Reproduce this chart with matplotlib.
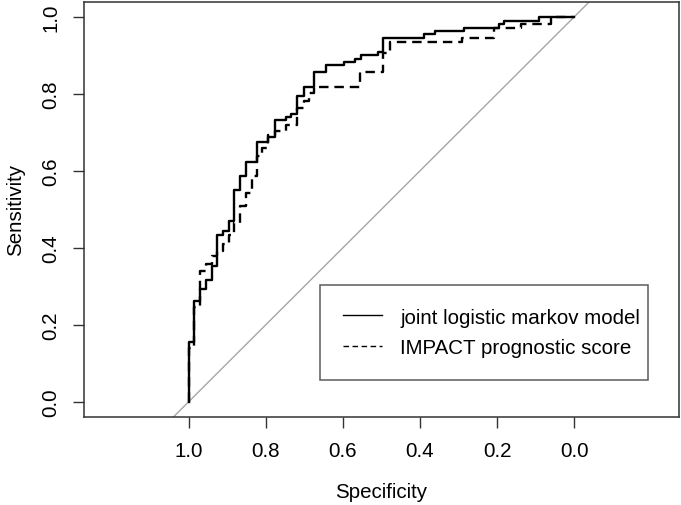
import matplotlib
matplotlib.use("Agg")
import matplotlib.pyplot as plt

plt.rcParams["font.family"] = ["Liberation Sans", "DejaVu Sans"]

# ROC step points (specificity, sensitivity)
spec_joint = [1.0, 0.986, 0.970, 0.956, 0.941, 0.926, 0.911, 0.896, 0.883, 0.866,
              0.851, 0.823, 0.795, 0.777, 0.747, 0.734, 0.718, 0.702, 0.674, 0.643,
              0.598, 0.568, 0.553, 0.510, 0.495, 0.391, 0.361, 0.285, 0.196, 0.181,
              0.091, 0.0]
sens_joint = [0.0, 0.156, 0.262, 0.293, 0.316, 0.353, 0.433, 0.444, 0.470, 0.550,
              0.586, 0.623, 0.675, 0.688, 0.731, 0.740, 0.748, 0.794, 0.819, 0.856,
              0.874, 0.883, 0.891, 0.900, 0.909, 0.945, 0.955, 0.964, 0.972, 0.982,
              0.990, 1.0]

spec_impact = [1.0, 0.986, 0.970, 0.956, 0.941, 0.926, 0.911, 0.896, 0.883, 0.866,
               0.851, 0.837, 0.823, 0.810, 0.795, 0.777, 0.747, 0.718, 0.702, 0.688,
               0.674, 0.555, 0.495, 0.479, 0.290, 0.207, 0.137, 0.060, 0.0]
sens_impact = [0.0, 0.139, 0.245, 0.339, 0.358, 0.378, 0.391, 0.409, 0.433, 0.464,
               0.508, 0.541, 0.586, 0.638, 0.658, 0.694, 0.703, 0.720, 0.764, 0.782,
               0.802, 0.819, 0.857, 0.907, 0.936, 0.945, 0.971, 0.982, 1.0]

labels = ["joint logistic markov model", "IMPACT prognostic score"]
tick_vals = [1.0, 0.8, 0.6, 0.4, 0.2, 0.0]
FS = 14.8

fig = plt.figure(figsize=(6.81, 5.06), dpi=100)
ax = fig.add_axes([84 / 681, 88 / 506, 595 / 681, 415.5 / 506])

# chance line
ax.axline((1.0, 0.0), (0.0, 1.0), color="#a6a6a6", lw=1.0, zorder=1)

ax.plot(spec_joint, sens_joint, drawstyle="steps-pre", color="black",
        lw=1.7, label=labels[0], zorder=3)
ax.plot(spec_impact, sens_impact, drawstyle="steps-pre", color="black",
        lw=1.7, ls=(0, (4, 2.5)), label=labels[1], zorder=2)

ax.set_xlim(1.272, -0.272)
ax.set_ylim(-0.04, 1.04)

ax.set_xticks(tick_vals)
ax.set_xticklabels([f"{v:.1f}" for v in tick_vals], fontsize=FS)
ax.set_yticks(tick_vals)
ax.set_yticklabels([f"{v:.1f}" for v in tick_vals], fontsize=FS,
                   rotation=90, va="center")
ax.tick_params(axis="both", length=8, width=1, color="#333333", pad=9)
for s in ax.spines.values():
    s.set_linewidth(1.1)
    s.set_color("#333333")

ax.set_xlabel("Specificity", fontsize=FS, labelpad=16)
ax.set_ylabel("Sensitivity", fontsize=FS, labelpad=12)

top = 1 - 286 / 506
leg = ax.legend(loc="upper left", mode="expand",
                bbox_to_anchor=(320 / 681, top - 0.01, 328 / 681, 0.01),
                bbox_transform=fig.transFigure, fontsize=FS, frameon=True,
                fancybox=False, edgecolor="#333333", borderpad=1.1,
                handlelength=1.9, handletextpad=0.9, labelspacing=0.55,
                borderaxespad=0)
leg.get_frame().set_linewidth(1.1)
for h in leg.get_lines():
    h.set_linewidth(1.0)

fig.savefig("out.png", dpi=100, facecolor="white")
